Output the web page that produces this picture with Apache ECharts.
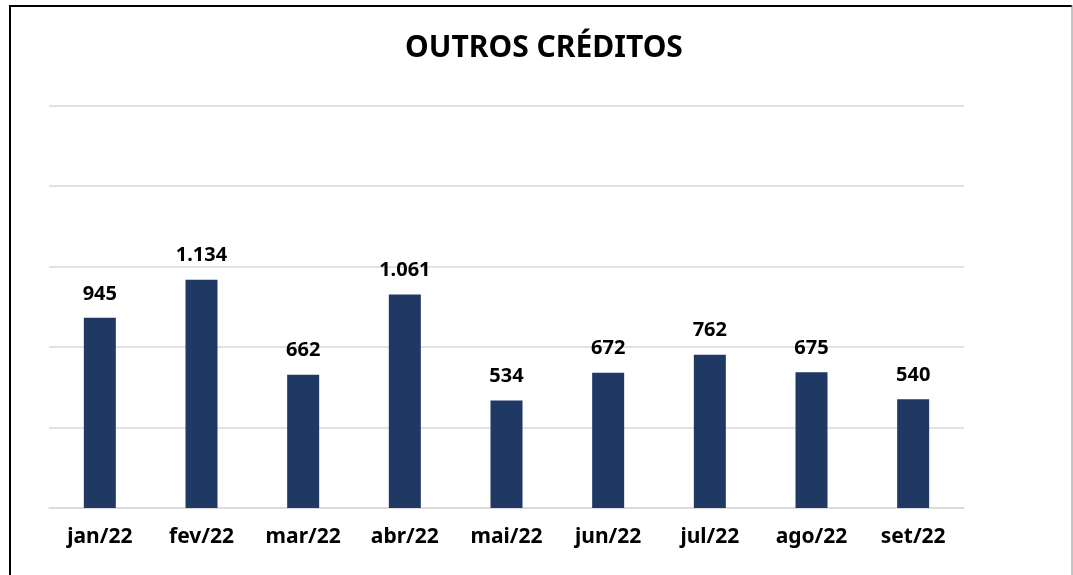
<!DOCTYPE html>
<html>
<head>
<meta charset="utf-8">
<script src="https://cdn.jsdelivr.net/npm/echarts@6/dist/echarts.min.js"></script>
<style>
  html, body { margin: 0; padding: 0; background: #fff; }
  #main { width: 1073px; height: 575px; }
</style>
</head>
<body>
<div id="main"></div>
<script>
// dados do gráfico
var meses = ['jan/22', 'fev/22', 'mar/22', 'abr/22', 'mai/22', 'jun/22', 'jul/22', 'ago/22', 'set/22'];
var valores = [945, 1134, 662, 1061, 534, 672, 762, 675, 540];

var fonte = '"Noto Sans", sans-serif';

function formatar(v) {
    // separador de milhar com ponto
    return String(v).replace(/\B(?=(\d{3})+(?!\d))/g, '.');
}

var myecharts = echarts.init(document.getElementById('main'), null, { renderer: 'canvas' });
var option = {
    backgroundColor: '#ffffff',
    animation: false,
    title: {
        text: 'OUTROS CRÉDITOS',
        left: 539,
        top: 28,
        textAlign: 'center',
        textStyle: {
            fontFamily: fonte,
            fontWeight: 'bold',
            fontSize: 30,
            color: '#000000'
        }
    },
    graphic: [
        { type: 'line', shape: { x1: 9, y1: 6, x2: 1072, y2: 6 }, style: { stroke: '#000', lineWidth: 2 } },
        { type: 'line', shape: { x1: 10, y1: 5, x2: 10, y2: 575 }, style: { stroke: '#000', lineWidth: 2 } },
        { type: 'line', shape: { x1: 1072, y1: 5, x2: 1072, y2: 575 }, style: { stroke: '#888', lineWidth: 1 } }
    ],
    grid: {
        left: 49,
        right: 109,
        top: 105.5,
        bottom: 67
    },
    xAxis: {
        type: 'category',
        data: meses,
        axisLine: { lineStyle: { color: '#d9d9d9', width: 1.5 } },
        axisTick: { show: false },
        axisLabel: {
            margin: 19,
            fontFamily: fonte,
            fontWeight: 'bold',
            fontSize: 21,
            color: '#000000'
        }
    },
    yAxis: {
        type: 'value',
        min: 0,
        max: 2000,
        interval: 400,
        axisLine: { show: false },
        axisTick: { show: false },
        axisLabel: { show: false },
        splitLine: { lineStyle: { color: '#d9d9d9', width: 1.5 } }
    },
    series: [
        {
            type: 'bar',
            data: valores,
            barWidth: 32,
            itemStyle: { color: '#203864' },
            label: {
                show: true,
                position: 'top',
                distance: 14,
                fontFamily: fonte,
                fontWeight: 'bold',
                fontSize: 20,
                color: '#000000',
                formatter: function (p) { return formatar(p.value); }
            }
        }
    ]
};
myecharts.setOption(option);
</script>
</body>
</html>
